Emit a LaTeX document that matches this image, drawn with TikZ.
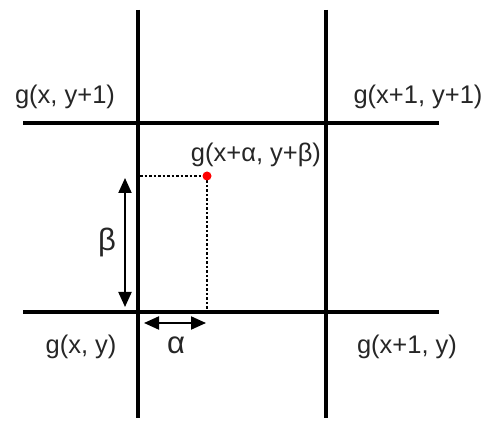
\documentclass[tikz,border=0pt]{standalone}
\usepackage{fontspec}
\setmainfont{Liberation Sans}
\usetikzlibrary{arrows.meta}
\begin{document}
\begin{tikzpicture}[x=1pt,y=1pt,
  gridline/.style={line width=4pt},
  guide/.style={line width=1.2pt, dash pattern=on 2.5pt off 2pt},
  dimarrow/.style={line width=2pt, {Triangle[length=15pt,width=13pt]}-{Triangle[length=15pt,width=13pt]}},
  lbl/.style={inner sep=0pt, font=\fontsize{25.5}{30}\selectfont, text=black!85},
  greek/.style={inner sep=0pt, font=\fontsize{31}{36}\selectfont, text=black!85}]
\useasboundingbox (0,0) rectangle (495,423);
% grid lines (y flipped: tikz y = 423 - pixel y)
\coordinate (v1t) at (138,413);
\coordinate (v1b) at (138,5);
\coordinate (v2t) at (326,413);
\coordinate (v2b) at (326,5);
\coordinate (h1l) at (23,300);
\coordinate (h1r) at (439,300);
\coordinate (h2l) at (23,111);
\coordinate (h2r) at (439,111);
\draw[gridline] (v1t) -- (v1b);
\draw[gridline] (v2t) -- (v2b);
\draw[gridline] (h1l) -- (h1r);
\draw[gridline] (h2l) -- (h2r);
% point and guides
\coordinate (p) at (207,247);
\coordinate (pl) at (140,247);
\coordinate (pb) at (207,113);
\draw[guide] (pl) -- (p);
\draw[guide] (p) -- (pb);
\fill[red] (p) circle (4.5pt);
% dimension arrows
\coordinate (bt) at (125,245);
\coordinate (bb) at (125,116);
\draw[dimarrow] (bt) -- (bb);
\coordinate (al) at (144,100);
\coordinate (ar) at (206,100);
\draw[dimarrow] (al) -- (ar);
% labels
\node[lbl] (n1) at (65,326) {g(x, y+1)};
\node[lbl] (n2) at (418,326) {g(x+1, y+1)};
\node[lbl] (n3) at (81,76) {g(x, y)};
\node[lbl] (n4) at (407,76) {g(x+1, y)};
\node[lbl] (n5) at (256,268) {g(x+α, y+β)};
\node[greek] (na) at (176,78) {α};
\node[greek] (nb) at (107,181) {β};
\end{tikzpicture}
\end{document}
